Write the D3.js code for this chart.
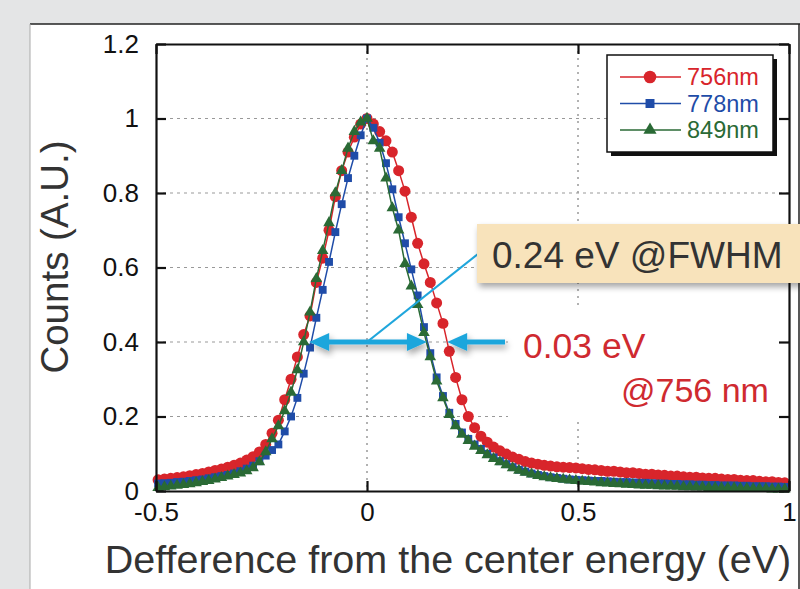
<!DOCTYPE html>
<html lang="en">
<head>
<meta charset="utf-8">
<title>Spectra vs center energy</title>
<script src="https://d3js.org/d3.v7.min.js"></script>
<style>
  body { margin: 0; background: #e4e5e6; }
  svg { display: block; font-family: "Liberation Sans", Arial, sans-serif; }
</style>
</head>
<body>
<div id="chart"></div>
<script>
// energy offset from the center (eV)
const energies = [-0.495,-0.48,-0.465,-0.45,-0.435,-0.42,-0.405,-0.39,-0.375,-0.36,
  -0.345,-0.33,-0.315,-0.3,-0.285,-0.27,-0.255,-0.24,-0.225,-0.21,
  -0.195,-0.18,-0.165,-0.15,-0.135,-0.12,-0.105,-0.09,-0.075,-0.06,
  -0.045,-0.03,-0.015,0,0.015,0.03,0.045,0.06,0.075,0.09,
  0.105,0.12,0.135,0.15,0.165,0.18,0.195,0.21,0.225,0.24,
  0.255,0.27,0.285,0.3,0.315,0.33,0.345,0.36,0.375,0.39,
  0.405,0.42,0.435,0.45,0.465,0.48,0.495,0.51,0.525,0.54,
  0.555,0.57,0.585,0.6,0.615,0.63,0.645,0.66,0.675,0.69,
  0.705,0.72,0.735,0.75,0.765,0.78,0.795,0.81,0.825,0.84,
  0.855,0.87,0.885,0.9,0.915,0.93,0.945,0.96,0.975,0.99];

const counts756 = [0.030,0.032,0.034,0.036,0.038,0.041,0.044,0.047,0.051,0.055,
  0.059,0.064,0.069,0.075,0.083,0.092,0.105,0.125,0.155,0.19,
  0.245,0.30,0.36,0.42,0.47,0.56,0.625,0.70,0.79,0.86,
  0.91,0.95,0.985,1.0,0.985,0.965,0.94,0.91,0.86,0.805,
  0.735,0.665,0.61,0.56,0.505,0.45,0.375,0.305,0.245,0.20,
  0.17,0.147,0.131,0.118,0.108,0.099,0.091,0.085,0.079,0.075,
  0.072,0.069,0.067,0.065,0.064,0.063,0.062,0.060,0.058,0.057,
  0.055,0.053,0.053,0.051,0.049,0.049,0.047,0.045,0.045,0.043,
  0.042,0.040,0.040,0.038,0.037,0.037,0.035,0.034,0.034,0.032,
  0.031,0.031,0.029,0.028,0.028,0.026,0.025,0.025,0.023,0.022];

const counts778 = [0.020,0.021,0.022,0.024,0.025,0.027,0.029,0.031,0.034,0.037,
  0.040,0.043,0.047,0.053,0.060,0.068,0.080,0.095,0.11,0.125,
  0.16,0.20,0.25,0.315,0.385,0.465,0.54,0.615,0.695,0.77,
  0.84,0.90,0.955,1.0,0.975,0.935,0.88,0.81,0.735,0.665,
  0.595,0.525,0.44,0.37,0.305,0.255,0.21,0.18,0.157,0.14,
  0.125,0.113,0.10,0.09,0.08,0.072,0.064,0.057,0.052,0.047,
  0.043,0.040,0.037,0.035,0.033,0.031,0.030,0.029,0.028,0.027,
  0.027,0.026,0.025,0.024,0.024,0.023,0.022,0.022,0.021,0.020,
  0.020,0.019,0.019,0.018,0.018,0.017,0.017,0.016,0.016,0.015,
  0.015,0.015,0.014,0.014,0.013,0.013,0.013,0.012,0.012,0.011];

const counts849 = [0.009,0.011,0.013,0.015,0.017,0.019,0.022,0.025,0.028,0.032,
  0.036,0.040,0.044,0.048,0.054,0.062,0.078,0.105,0.14,0.175,
  0.215,0.265,0.325,0.40,0.48,0.57,0.645,0.72,0.80,0.86,
  0.92,0.965,0.99,1.0,0.94,0.92,0.84,0.76,0.70,0.61,
  0.55,0.50,0.425,0.36,0.295,0.25,0.205,0.175,0.152,0.135,
  0.12,0.108,0.097,0.087,0.078,0.070,0.062,0.055,0.050,0.045,
  0.041,0.038,0.035,0.033,0.031,0.029,0.028,0.026,0.025,0.024,
  0.022,0.021,0.020,0.019,0.018,0.017,0.016,0.015,0.015,0.014,
  0.013,0.013,0.012,0.011,0.011,0.010,0.010,0.009,0.009,0.008,
  0.008,0.008,0.007,0.007,0.006,0.006,0.006,0.005,0.005,0.005];

const seriesNames = ["756nm", "778nm", "849nm"];
const xTicks = [-0.5, 0, 0.5, 1];
const yTicks = [0, 0.2, 0.4, 0.6, 0.8, 1, 1.2];

const width = 800, height = 589;
const plotLeft = 156, plotRight = 789, plotTop = 44, plotBottom = 491;

const svg = d3.select("#chart").append("svg")
  .attr("width", width)
  .attr("height", height);

const defs = svg.append("defs");
const shadow = defs.append("filter").attr("id", "shadow")
  .attr("x", "-10%").attr("y", "-20%").attr("width", "130%").attr("height", "160%");
shadow.append("feDropShadow").attr("dx", 2).attr("dy", 4)
  .attr("stdDeviation", 3).attr("flood-color", "#000").attr("flood-opacity", 0.35);

// slide panel
svg.append("rect").attr("x", 0).attr("y", 0).attr("width", width).attr("height", height).attr("fill", "#e4e5e6");
svg.append("rect").attr("x", 30).attr("y", 24).attr("width", width - 30).attr("height", height - 24).attr("fill", "#fff");
svg.append("line").attr("x1", 30).attr("x2", width).attr("y1", 24).attr("y2", 24).attr("stroke", "#222").attr("stroke-width", 1.5);
svg.append("line").attr("x1", 30).attr("x2", 30).attr("y1", 24).attr("y2", height).attr("stroke", "#aaa").attr("stroke-width", 1);
svg.append("line").attr("x1", 799).attr("x2", 799).attr("y1", 24).attr("y2", height).attr("stroke", "#222").attr("stroke-width", 1.5);

let x = d3.scaleLinear().domain([-0.5, 1]).range([plotLeft, plotRight]);
let y = d3.scaleLinear().domain([0, 1.2]).range([plotBottom, plotTop]);

// grid
svg.append("g").selectAll("line")
  .data([0.2, 0.4, 0.6, 0.8, 1])
  .enter().append("line")
  .attr("x1", plotLeft).attr("x2", plotRight)
  .attr("y1", d => y(d)).attr("y2", d => y(d))
  .attr("stroke", "#999").attr("stroke-width", 1).attr("stroke-dasharray", "3,4");
svg.append("g").selectAll("line")
  .data([0, 0.5])
  .enter().append("line")
  .attr("x1", d => x(d)).attr("x2", d => x(d))
  .attr("y1", plotTop).attr("y2", plotBottom)
  .attr("stroke", "#999").attr("stroke-width", 1.5).attr("stroke-dasharray", "2,5");

// white backing behind the side note
svg.append("rect").attr("x", 508).attr("y", 310).attr("width", plotRight - 508 - 1).attr("height", 110).attr("fill", "#fff");

// series
const series = [
  { name: seriesNames[0], values: counts756, color: "#d8252b", symbol: d3.symbolCircle, size: 95 },
  { name: seriesNames[1], values: counts778, color: "#1f4ca8", symbol: d3.symbolSquare, size: 62 },
  { name: seriesNames[2], values: counts849, color: "#2a6a35", symbol: d3.symbolTriangle, size: 58 }
];

const line = d3.line().x(d => x(d[0])).y(d => y(d[1]));

series.forEach(function(s) {
  const pts = energies.map((e, i) => [e, s.values[i]]);
  svg.append("path")
    .attr("d", line(pts))
    .attr("fill", "none")
    .attr("stroke", s.color)
    .attr("stroke-width", 1.5);
  svg.append("g").selectAll("path")
    .data(pts)
    .enter().append("path")
    .attr("transform", d => "translate(" + x(d[0]) + "," + y(d[1]) + ")")
    .attr("d", d3.symbol().type(s.symbol).size(s.size))
    .attr("fill", s.color);
});

// axes (all ticks point inward)
const fmt = d => String(d);
const axL = svg.append("g").attr("transform", "translate(" + plotLeft + ",0)")
  .call(d3.axisLeft(y).tickValues(yTicks).tickSize(-10).tickSizeOuter(0).tickPadding(17).tickFormat(fmt));
const axB = svg.append("g").attr("transform", "translate(0," + plotBottom + ")")
  .call(d3.axisBottom(x).tickValues(xTicks).tickSize(-10).tickSizeOuter(0).tickPadding(12).tickFormat(fmt));
const axT = svg.append("g").attr("transform", "translate(0," + plotTop + ")")
  .call(d3.axisTop(x).tickValues(xTicks).tickSize(-10).tickSizeOuter(0).tickFormat(""));
const axR = svg.append("g").attr("transform", "translate(" + plotRight + ",0)")
  .call(d3.axisRight(y).tickValues(yTicks).tickSize(-10).tickSizeOuter(0).tickFormat(""));

[axL, axB, axT, axR].forEach(function(a) {
  a.select(".domain").attr("stroke", "#111").attr("stroke-width", 2.2);
  a.selectAll(".tick line").attr("stroke", "#111").attr("stroke-width", 2.2);
  a.selectAll(".tick text").attr("font-size", 26).attr("fill", "#111")
    .attr("font-family", "Liberation Sans, Arial, sans-serif");
});

// axis titles
svg.append("text")
  .attr("x", 448).attr("y", 573)
  .attr("text-anchor", "middle")
  .attr("font-size", 39.5).attr("fill", "#333")
  .text("Defference from the center energy (eV)");
svg.append("text")
  .attr("transform", "translate(68,257) rotate(-90)")
  .attr("text-anchor", "middle")
  .attr("font-size", 38.5).attr("fill", "#333")
  .text("Counts (A.U.)");

// FWHM arrows
const arrowColor = "#1fa6dc";
function arrowHead(tipX, tipY, dir) {
  // dir = -1 points left, +1 points right
  const len = 20, half = 9;
  return "M" + tipX + "," + tipY + "L" + (tipX - dir * len) + "," + (tipY - half) +
    "L" + (tipX - dir * len) + "," + (tipY + half) + "Z";
}
const ay = y(0.4);
const arrows = svg.append("g").attr("filter", "url(#shadow)");
arrows.append("line")
  .attr("x1", x(-0.137) + 15).attr("x2", x(0.142) - 15)
  .attr("y1", ay).attr("y2", ay)
  .attr("stroke", arrowColor).attr("stroke-width", 5);
arrows.append("path").attr("d", arrowHead(x(-0.137), ay, -1)).attr("fill", arrowColor);
arrows.append("path").attr("d", arrowHead(x(0.142), ay, 1)).attr("fill", arrowColor);
arrows.append("line")
  .attr("x1", x(0.19) + 15).attr("x2", 505)
  .attr("y1", ay).attr("y2", ay)
  .attr("stroke", arrowColor).attr("stroke-width", 5);
arrows.append("path").attr("d", arrowHead(x(0.19), ay, -1)).attr("fill", arrowColor);

// leader line to callout
svg.append("line")
  .attr("x1", x(0)).attr("y1", ay)
  .attr("x2", 478).attr("y2", 254)
  .attr("stroke", arrowColor).attr("stroke-width", 2.2);

// callout box
svg.append("rect")
  .attr("x", 477).attr("y", 224).attr("width", 330).attr("height", 59)
  .attr("fill", "#f8e3bb").attr("filter", "url(#shadow)");
svg.append("text")
  .attr("x", 492).attr("y", 268)
  .attr("font-size", 37).attr("fill", "#333")
  .text("0.24 eV @FWHM");

// side note
svg.append("text")
  .attr("x", 523).attr("y", 358)
  .attr("font-size", 35.5).attr("fill", "#cf2a30")
  .text("0.03 eV");
svg.append("text")
  .attr("x", 621).attr("y", 402)
  .attr("font-size", 34).attr("fill", "#cf2a30")
  .text("@756 nm");

// legend
const lg = svg.append("g");
lg.append("rect").attr("x", 611).attr("y", 59).attr("width", 166).attr("height", 97).attr("fill", "#111");
lg.append("rect").attr("x", 607).attr("y", 55).attr("width", 166).attr("height", 97)
  .attr("fill", "#fff").attr("stroke", "#111").attr("stroke-width", 1.5);
const rows = lg.selectAll("g.row")
  .data(series)
  .enter().append("g")
  .attr("class", "row")
  .attr("transform", (d, i) => "translate(0," + (77 + i * 26.5) + ")");
rows.append("line")
  .attr("x1", 620).attr("x2", 681).attr("y1", 0).attr("y2", 0)
  .attr("stroke", d => d.color).attr("stroke-width", 1.5);
rows.append("path")
  .attr("transform", "translate(650,0)")
  .attr("d", d => d3.symbol().type(d.symbol).size(d.size * 1.3)())
  .attr("fill", d => d.color);
rows.append("text")
  .attr("x", 687).attr("y", 8)
  .attr("font-size", 23.5)
  .attr("fill", d => d.color)
  .text(d => d.name);
</script>
</body>
</html>
